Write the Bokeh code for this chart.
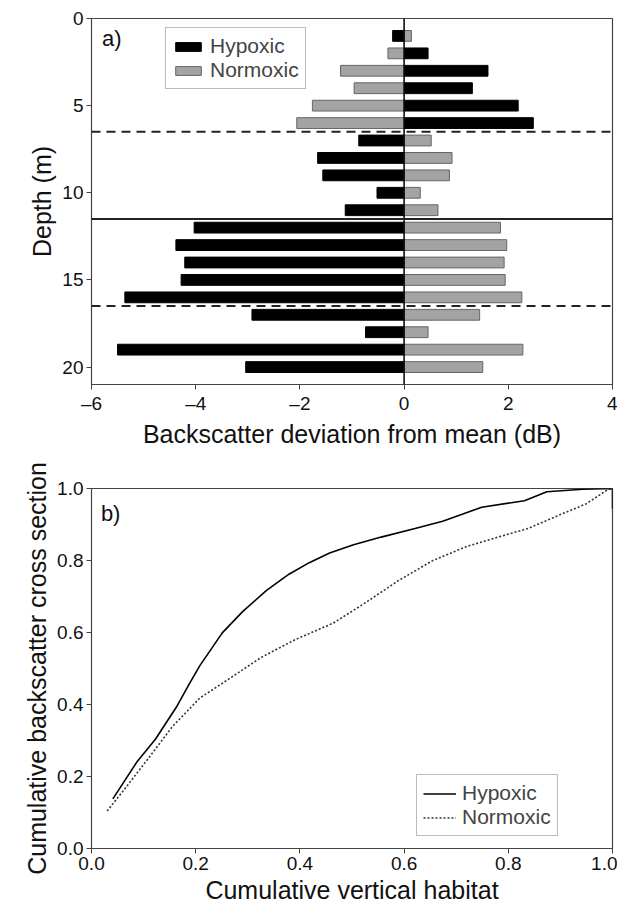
from bokeh.plotting import figure
from bokeh.layouts import column
from bokeh.models import (Range1d, FixedTicker, Span, Legend, LegendItem, Label,
                          ColumnDataSource, NumeralTickFormatter)
from bokeh.embed import file_html
from bokeh.resources import INLINE

FONT = "Liberation Sans"

# ---------------- data ----------------
depth = [1, 2, 3, 4, 5, 6, 7, 8, 9, 10, 11, 12, 13, 14, 15, 16, 17, 18, 19, 20]
hypoxic_dev = [-0.22, 0.46, 1.61, 1.31, 2.19, 2.48, -0.87, -1.66, -1.56, -0.52,
               -1.13, -4.03, -4.38, -4.21, -4.28, -5.36, -2.92, -0.74, -5.50, -3.04]
normoxic_dev = [0.14, -0.31, -1.22, -0.96, -1.76, -2.06, 0.52, 0.92, 0.87, 0.31,
                0.65, 1.85, 1.97, 1.92, 1.94, 2.26, 1.45, 0.46, 2.28, 1.51]
dashed_depths = [6.5, 16.5]
solid_depths = [11.5]

hyp_x = [0.041, 0.087, 0.123, 0.163, 0.188, 0.208, 0.251, 0.290, 0.336, 0.379,
         0.418, 0.457, 0.503, 0.556, 0.621, 0.674, 0.749, 0.831, 0.874, 0.943,
         1.0, 1.0]
hyp_y = [0.138, 0.240, 0.304, 0.393, 0.458, 0.508, 0.599, 0.658, 0.717, 0.762,
         0.794, 0.821, 0.844, 0.865, 0.889, 0.909, 0.948, 0.966, 0.991, 0.998,
         1.0, 0.944]
nor_x = [0.030, 0.064, 0.110, 0.156, 0.208, 0.247, 0.326, 0.392, 0.464, 0.523,
         0.589, 0.654, 0.720, 0.785, 0.838, 0.904, 0.949, 0.990, 1.0]
nor_y = [0.104, 0.166, 0.252, 0.340, 0.418, 0.455, 0.531, 0.581, 0.626, 0.680,
         0.744, 0.799, 0.839, 0.867, 0.889, 0.930, 0.957, 0.996, 1.0]

a_xticks = [-6, -4, -2, 0, 2, 4]
a_yticks = [0, 5, 10, 15, 20]
b_ticks = [0.0, 0.2, 0.4, 0.6, 0.8, 1.0]

AXC = "#444444"


def style(p):
    p.outline_line_color = AXC
    p.outline_line_width = 1.2
    p.xgrid.visible = False
    p.ygrid.visible = False
    for ax in (p.xaxis[0], p.yaxis[0]):
        ax.axis_line_color = AXC
        ax.major_tick_line_color = AXC
        ax.minor_tick_line_color = None
        ax.major_tick_out = 5
        ax.major_tick_in = 0
        ax.major_label_text_font = FONT
        ax.major_label_text_font_size = "19px"
        ax.major_label_text_color = "#111111"
        ax.axis_label_text_font = FONT
        ax.axis_label_text_font_size = "25px"
        ax.axis_label_text_font_style = "normal"
        ax.axis_label_text_color = "#111111"
        ax.major_label_standoff = 3
        ax.axis_label_standoff = 3
    p.background_fill_color = "white"
    p.border_fill_color = "white"


# ---------------- panel a ----------------
pa = figure(width=617, height=450, output_backend="svg", toolbar_location=None,
            x_range=Range1d(-6, 4), y_range=Range1d(21, 0),
            min_border_left=91, min_border_right=5, min_border_top=18,
            min_border_bottom=62)
style(pa)
pa.xaxis.ticker = FixedTicker(ticks=a_xticks)
pa.xaxis.major_label_overrides = {t: (("\u2013" + str(-t)) if t < 0 else str(t)) for t in a_xticks}
pa.yaxis.ticker = FixedTicker(ticks=a_yticks)
pa.xaxis.axis_label = "Backscatter deviation from mean (dB)"
pa.yaxis.axis_label = "Depth (m)"

src = ColumnDataSource(dict(depth=depth, hyp=hypoxic_dev, nor=normoxic_dev))
r_h = pa.hbar(y="depth", left=0, right="hyp", height=0.62, source=src,
              fill_color="black", line_color="black", line_width=1)
r_n = pa.hbar(y="depth", left=0, right="nor", height=0.62, source=src,
              fill_color="#a3a3a3", line_color="#666666", line_width=1)

pa.add_layout(Span(location=0, dimension="height", line_color="black", line_width=1.5))
for d in dashed_depths:
    pa.add_layout(Span(location=d, dimension="width", line_color="#222222",
                       line_width=2, line_dash="9 6"))
for d in solid_depths:
    pa.add_layout(Span(location=d, dimension="width", line_color="#222222", line_width=2))

leg_a = Legend(items=[LegendItem(label="Hypoxic", renderers=[r_h]),
                      LegendItem(label="Normoxic", renderers=[r_n])],
               location=(74, 295), label_text_font=FONT, label_text_font_size="21px",
               glyph_width=32, glyph_height=11, label_height=18, spacing=0,
               padding=6, margin=0, border_line_color="#777777", border_line_width=1,
               label_standoff=6, background_fill_alpha=1)
pa.add_layout(leg_a, "center")
pa.add_layout(Label(x=-5.8, y=0.45, text="a)", text_font=FONT, text_font_size="22px",
                    text_baseline="top", text_color="#111111"))

# ---------------- panel b ----------------
pb = figure(width=617, height=458, output_backend="svg", toolbar_location=None,
            x_range=Range1d(0, 1), y_range=Range1d(0, 1),
            min_border_left=91, min_border_right=5, min_border_top=38,
            min_border_bottom=60)
style(pb)
pb.xaxis.ticker = FixedTicker(ticks=b_ticks)
pb.yaxis.ticker = FixedTicker(ticks=b_ticks)
pb.xaxis.formatter = NumeralTickFormatter(format="0.0")
pb.yaxis.formatter = NumeralTickFormatter(format="0.0")
pb.xaxis.axis_label = "Cumulative vertical habitat"
pb.yaxis.axis_label = "Cumulative backscatter cross section"

l_h = pb.line(hyp_x, hyp_y, line_color="black", line_width=1.6)
l_n = pb.line(nor_x, nor_y, line_color="#333333", line_width=1.6, line_dash="2 2")

leg_b = Legend(items=[LegendItem(label="Hypoxic", renderers=[l_h]),
                      LegendItem(label="Normoxic", renderers=[l_n])],
               location=(325, 12), label_text_font=FONT, label_text_font_size="21px",
               glyph_width=33, glyph_height=11, label_height=18, spacing=0,
               padding=6, margin=0, border_line_color="#777777", border_line_width=1,
               label_standoff=6)
pb.add_layout(leg_b, "center")
pb.add_layout(Label(x=0.018, y=0.965, text="b)", text_font=FONT, text_font_size="22px",
                    text_baseline="top", text_color="#111111"))

layout = column(pa, pb, spacing=0)
open("out.html", "w").write(file_html(layout, INLINE))
